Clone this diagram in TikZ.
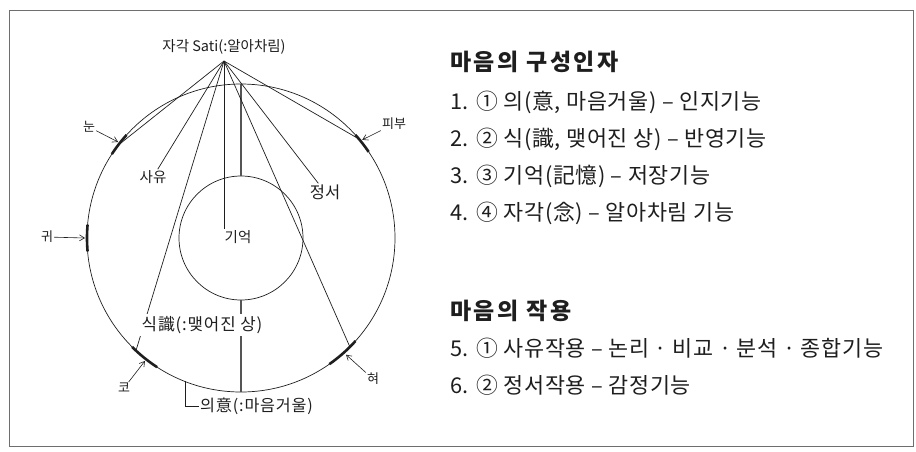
\documentclass[tikz,border=0pt]{standalone}
\usepackage{fontspec}
\setmainfont{Noto Sans CJK KR}
\newfontfamily\rfont{Noto Sans CJK KR}[LetterSpace=3]
\newfontfamily\tfont{Noto Sans CJK KR}[LetterSpace=11]
\newfontfamily\lfont{Noto Sans CJK KR}[LetterSpace=5]
\usetikzlibrary{arrows.meta,calc}
\definecolor{framegray}{HTML}{6E6E6E}
\definecolor{linegray}{HTML}{555555}
\definecolor{ink}{HTML}{1E1E1E}
\begin{document}
\begin{tikzpicture}[x=1pt,y=-1pt,
  ln/.style={line width=0.7pt,draw=ink},
  grayln/.style={line width=1.4pt,draw=linegray},
  sense/.style={line width=2.6pt,draw=ink},
  arr/.style={line width=0.6pt,draw=ink,-{Straight Barb[length=5pt,width=6pt]}},
  lab/.style={inner sep=1pt,text=ink,font=\fontsize{14.5}{16}\selectfont},
  small/.style={inner sep=1pt,text=ink,font=\fontsize{13}{14}\selectfont},
  wlab/.style={lab,fill=white,inner sep=2pt,font=\lfont\fontsize{16.8}{18}\selectfont},
  rtitle/.style={anchor=west,inner sep=0pt,text=ink,font=\tfont\fontsize{23}{26}\selectfont\bfseries},
  rline/.style={anchor=west,inner sep=0pt,text=ink,font=\rfont\fontsize{21.8}{24}\selectfont}]
\useasboundingbox (0,0) rectangle (916,451);
\draw[framegray,line width=1pt] (9,10) rectangle (913,446);

% circles
\coordinate (C) at (241,238);
\draw[ln] (C) circle[radius=154pt];
\draw[ln] (C) circle[radius=62pt];

% points on the outer circle
\coordinate (eyeP) at ($(C)+(217:154)$);
\coordinate (noseP) at ($(C)+(133:154)$);
\coordinate (tongueP) at ($(C)+(45:154)$);
\coordinate (skinP) at ($(C)+(320:154)$);
\coordinate (uiP) at ($(C)+(111.3:154)$);
\coordinate (outTop) at ($(C)+(270:154)$);
\coordinate (inTop) at ($(C)+(270:62)$);
\coordinate (inBot) at ($(C)+(90:62)$);
\coordinate (outBot) at ($(C)+(90:154)$);

% sense organ arcs
\draw[sense,domain=213:222,variable=\t,smooth] plot ({241+154*cos(\t)},{238+154*sin(\t)});
\draw[sense,domain=175:185,variable=\t,smooth] plot ({241+154*cos(\t)},{238+154*sin(\t)});
\draw[sense,domain=123:135,variable=\t,smooth] plot ({241+154*cos(\t)},{238+154*sin(\t)});
\draw[sense,domain=42:55,variable=\t,smooth] plot ({241+154*cos(\t)},{238+154*sin(\t)});
\draw[sense,domain=318:326,variable=\t,smooth] plot ({241+154*cos(\t)},{238+154*sin(\t)});

% gray verticals
\draw[grayln] (outTop) -- (inTop);
\draw[grayln] (inBot) -- (outBot);

% Sati
\node[lab] (sati) at (224,47) {자각 Sati(:알아차림)};
\coordinate (apex) at (224,61);
\node[lab] (sayu) at (153,177) {사유};
\node[lab,font=\fontsize{16.5}{18}\selectfont] (jeongseo) at (325,192) {정서};
\node[lab] (giok) at (238,237) {기억};

\draw[ln] (apex) -- (eyeP);
\draw[ln] (apex) -- (sayu);
\draw[ln] (apex) -- (noseP);
\draw[ln] (apex) -- (apex |- giok.north);
\draw[ln] (apex) -- (tongueP);
\draw[ln] (apex) -- (jeongseo);
\draw[ln] (apex) -- (skinP);

\node[wlab] (sik) at (202,325) {식識(:맺어진 상)};
\node[lab,anchor=west,font=\lfont\fontsize{16.2}{17}\selectfont] (ui) at (199,406) {의意(:마음거울)};
\draw[ln] (uiP) |- (ui.west);

% sense labels
\node[small] (nun) at (89,127) {눈};
\node[small] (gwi) at (47,237) {귀};
\node[small] (ko) at (124,388) {코};
\node[small] (heo) at (373,379) {혀};
\node[small] (pibu) at (394,124) {피부};
\coordinate (eyeA) at ($(C)+(218:156)$);
\coordinate (earA) at ($(C)+(180:156)$);
\coordinate (noseA) at ($(C)+(128:156)$);
\coordinate (tongueA) at ($(C)+(48:157)$);
\coordinate (skinA) at ($(C)+(321:156)$);
\draw[arr] (nun) -- (eyeA);
\draw[arr] (gwi) -- (earA);
\draw[arr] (ko) -- (noseA);
\draw[arr] (heo) -- (tongueA);
\draw[arr] (pibu) -- (skinA);

% right text
\node[rtitle] (t1) at (450,62) {마음의 구성인자};
\node[rline] (l1) at (450,102) {1. ① 의(意, 마음거울) – 인지기능};
\node[rline] (l2) at (450,139) {2. ② 식(識, 맺어진 상) – 반영기능};
\node[rline] (l3) at (450,176) {3. ③ 기억(記憶) – 저장기능};
\node[rline] (l4) at (450,213) {4. ④ 자각(念) – 알아차림 기능};
\node[rtitle] (t2) at (450,311) {마음의 작용};
\node[rline] (l5) at (450,348) {5. ① 사유작용 – 논리 · 비교 · 분석 · 종합기능};
\node[rline] (l6) at (450,385) {6. ② 정서작용 – 감정기능};
\end{tikzpicture}
\end{document}
